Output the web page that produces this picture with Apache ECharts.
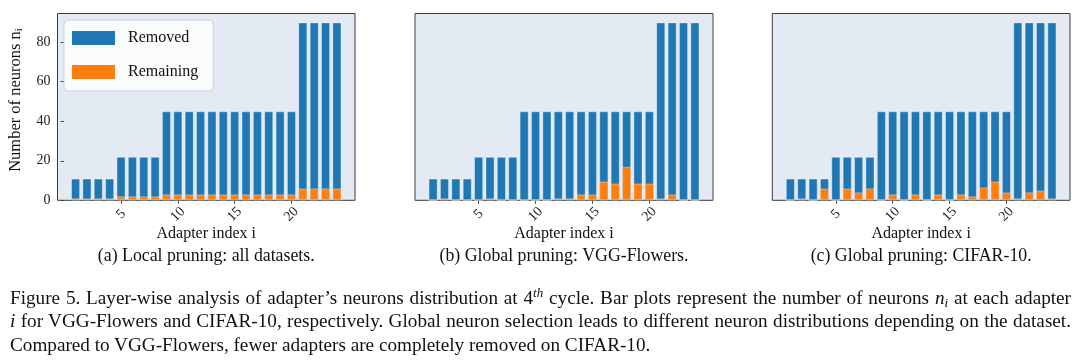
<!DOCTYPE html>
<html>
<head>
<meta charset="utf-8">
<script src="https://cdn.jsdelivr.net/npm/echarts@6/dist/echarts.min.js"></script>
<style>
  html, body { margin: 0; padding: 0; background: #ffffff; }
  #wrap { position: relative; width: 1080px; height: 363px; overflow: hidden; }
  #chart { position: absolute; left: 0; top: 0; width: 1080px; height: 363px; }
  #caption { position: absolute; left: 10px; top: 286px; width: 1061px;
    font-family: 'Liberation Serif', 'Times New Roman', serif; font-size: 19.2px; line-height: 23.3px; color: #111; }
  #caption .j { text-align: justify; text-align-last: justify; }
  #caption .l { text-align: left; }
  #caption sup { font-size: 13px; line-height: 0; vertical-align: 7px; }
  #caption sub { font-size: 13px; line-height: 0; vertical-align: -3px; }
</style>
</head>
<body>
<div id="wrap">
  <div id="chart"></div>
  <div id="caption">
    <div class="j">Figure 5. Layer-wise analysis of adapter’s neurons distribution at 4<sup><i>th</i></sup> cycle. Bar plots represent the number of neurons <i>n<sub>i</sub></i> at each adapter</div>
    <div class="j"><i>i</i> for VGG-Flowers and CIFAR-10, respectively. Global neuron selection leads to different neuron distributions depending on the dataset.</div>
    <div class="l">Compared to VGG-Flowers, fewer adapters are completely removed on CIFAR-10.</div>
  </div>
</div>
<script>
// ---- data ----
const adapterIdx = [1,2,3,4,5,6,7,8,9,10,11,12,13,14,15,16,17,18,19,20,21,22,23,24];
const totalNeurons = [11,11,11,11,22,22,22,22,45,45,45,45,45,45,45,45,45,45,45,45,90,90,90,90];
const remainingLocal = [1,1,1,1,2,2,2,2,3,3,3,3,3,3,3,3,3,3,3,3,6,6,6,6];
const remainingVGG = [0,1,0,0,0,1,0,0,0,0,0,1,1,3,3,9.5,8.5,17,8.5,8.5,1,3,0,0];
const remainingCIFAR = [0,1,0,6,0,6,4,6,0,3,0,3,0,3,0,3,2,6.5,9.5,4,1,4,5,1];
const xTickValues = [5,10,15,20];
const yTickValues = [0,20,40,60,80];
const panelTitles = ['(a) Local pruning: all datasets.', '(b) Global pruning: VGG-Flowers.', '(c) Global pruning: CIFAR-10.'];
const xAxisTitle = 'Adapter index i';
const seriesNames = ['Removed', 'Remaining'];

// ---- layout ----
const FONT = "'Liberation Serif', 'Times New Roman', serif";
const BLUE = '#1f77b4', ORANGE = '#ff7f0e';
const panels = [
  { left: 57.5, width: 297.5, rem: remainingLocal },
  { left: 415, width: 298, rem: remainingVGG },
  { left: 772.3, width: 297.7, rem: remainingCIFAR }
];
const gridTop = 13.5, gridHeight = 186.8;

const chart = echarts.init(document.getElementById('chart'), null, { renderer: 'canvas' });

const grids = [], xAxes = [], yAxes = [], series = [], graphics = [];
panels.forEach((p, i) => {
  grids.push({ left: p.left, top: gridTop, width: p.width, height: gridHeight,
    show: true, backgroundColor: '#e4eaf4', borderColor: '#3c3c3c', borderWidth: 1, containLabel: false });
  xAxes.push({ type: 'value', gridIndex: i, min: -0.59, max: 25.59,
    splitLine: { show: false }, axisLine: { show: false },
    axisTick: { show: true, customValues: xTickValues, length: 3.5, lineStyle: { color: '#333', width: 0.9 } },
    axisLabel: { show: true, customValues: xTickValues, rotate: 45, align: 'center', verticalAlign: 'middle', margin: 14,
      fontFamily: FONT, fontSize: 14, color: '#222' } });
  yAxes.push({ type: 'value', gridIndex: i, min: 0, max: 94.5,
    splitLine: { show: false }, axisLine: { show: false },
    axisTick: { show: i === 0, customValues: yTickValues, length: 3.5, lineStyle: { color: '#333', width: 0.9 } },
    axisLabel: { show: i === 0, customValues: yTickValues, margin: 7, fontFamily: FONT, fontSize: 14, color: '#222' } });
  series.push({ name: seriesNames[0], type: 'bar', xAxisIndex: i, yAxisIndex: i, barWidth: '80%', barGap: '-100%',
    itemStyle: { color: BLUE, borderColor: 'rgba(255,255,255,0.35)', borderWidth: 1 },
    data: adapterIdx.map((x, k) => [x, totalNeurons[k]]), z: 2, silent: true });
  series.push({ name: seriesNames[1], type: 'bar', xAxisIndex: i, yAxisIndex: i, barWidth: '80%', barGap: '-100%',
    itemStyle: { color: ORANGE, borderColor: 'rgba(255,255,255,0.35)', borderWidth: 1 },
    data: adapterIdx.map((x, k) => [x, p.rem[k]]), z: 3, silent: true });
  const cx = p.left + p.width / 2;
  graphics.push({ type: 'text', x: cx, y: 234, style: { text: xAxisTitle, font: '16px ' + FONT, fill: '#111', align: 'center', verticalAlign: 'middle' } });
  graphics.push({ type: 'text', x: cx, y: 256, style: { text: panelTitles[i], font: '17.8px ' + FONT, fill: '#111', align: 'center', verticalAlign: 'middle' } });
});

graphics.push({ type: 'text', x: 16, y: 100, rotation: Math.PI / 2,
  style: { text: '{a|Number of neurons n}{s|i}', align: 'center', verticalAlign: 'middle', fill: '#111',
    rich: { a: { fontFamily: FONT, fontSize: 16.5, fill: '#111', lineHeight: 18 },
            s: { fontFamily: FONT, fontSize: 11, fill: '#111', verticalAlign: 'bottom', lineHeight: 18, padding: [6, 0, 0, 0] } } } });

chart.setOption({
  animation: false,
  grid: grids, xAxis: xAxes, yAxis: yAxes, series: series,
  legend: { data: seriesNames, orient: 'vertical', left: 64, top: 20, itemWidth: 43, itemHeight: 14, itemGap: 18,
    padding: [10, 15, 11, 8], backgroundColor: 'rgba(255,255,255,0.82)', borderColor: '#d0d0d0', borderWidth: 1, borderRadius: 4,
    icon: 'rect', textStyle: { fontFamily: FONT, fontSize: 16, color: '#111', padding: [0, 0, 0, 8] },
    itemStyle: { borderWidth: 0 } },
  graphic: graphics
});
</script>
</body>
</html>
